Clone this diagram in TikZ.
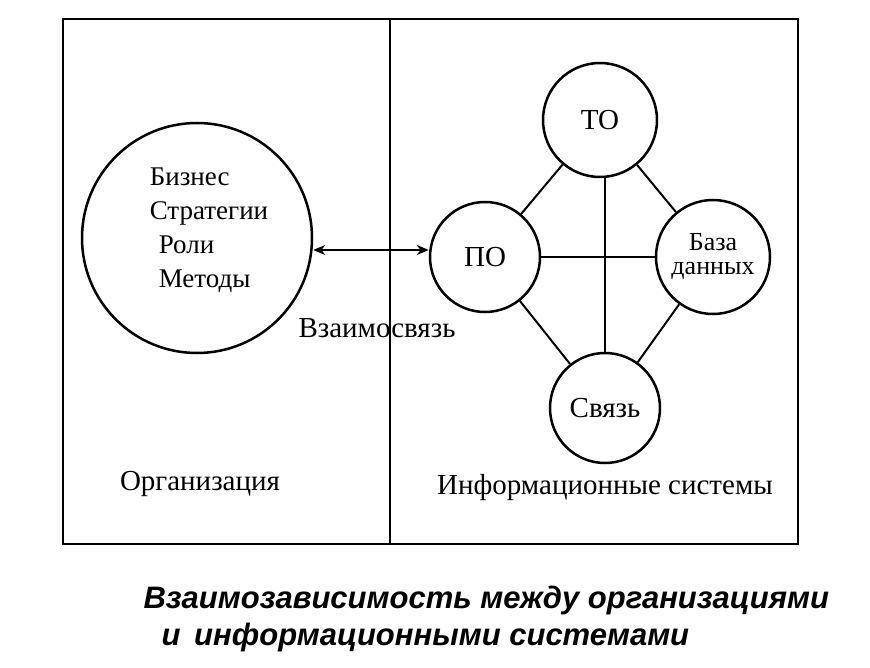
\documentclass[tikz,border=0pt]{standalone}
\usepackage{fontspec}
\setmainfont{Liberation Serif}
\newfontfamily\capfont{Liberation Sans}
\usetikzlibrary{arrows.meta}
\begin{document}
\begin{tikzpicture}[x=1pt,y=-1pt,
  circ/.style={draw,circle,line width=2.5pt,inner sep=0pt},
  lab/.style={font=\fontsize{29}{32}\selectfont},
  conn/.style={line width=2pt}]
\useasboundingbox (0,0) rectangle (870,668);
\node[draw,line width=2pt,minimum width=735,minimum height=525,anchor=north west,inner sep=0] (frame) at (62,18) {};
\draw[line width=1.6pt] (390,18) coordinate (dtop) -- (390,543) coordinate (dbot);
\node[circ,minimum size=230] (org) at (197,238) {};
\node[lab,align=left,anchor=center,font=\fontsize{27}{34}\selectfont] (orgt) at (209,230) {Бизнес\\Стратегии\\\,\,Роли\\\,\,Методы};
\node[circ,minimum size=114,lab] (to) at (600,120) {ТО};
\node[circ,minimum size=110,lab] (po) at (485,257) {ПО};
\node[circ,minimum size=114,align=center,font=\fontsize{26}{24}\selectfont] (db) at (713,257) {База\\данных};
\node[circ,minimum size=110,lab] (sv) at (605,408) {Связь};
\draw[conn] (po) -- (to);
\draw[conn] (to) -- (db);
\draw[conn] (po) -- (sv);
\draw[conn] (db) -- (sv);
\draw[conn] (to.south -| 605,0) -- (sv.north -| 605,0);
\draw[conn] (po) -- (db);
\draw[line width=2.5pt,{Stealth[length=12pt,width=10pt]}-{Stealth[length=12pt,width=10pt]}] (org.east |- 0,250) -- (po.west |- 0,250);
\node[lab] (vz) at (377,328) {Взаимосвязь};
\node[lab] (orgl) at (200,484) {Организация};
\node[lab] (isl) at (605,488) {Информационные системы};
\node[font=\fontsize{31}{34}\selectfont\capfont\bfseries\itshape,anchor=west] (c1) at (140,600) {Взаимозависимость между организациями};
\node[font=\fontsize{31}{34}\selectfont\capfont\bfseries\itshape,anchor=west] (c2) at (158,637) {и\, информационными системами};
\end{tikzpicture}
\end{document}
